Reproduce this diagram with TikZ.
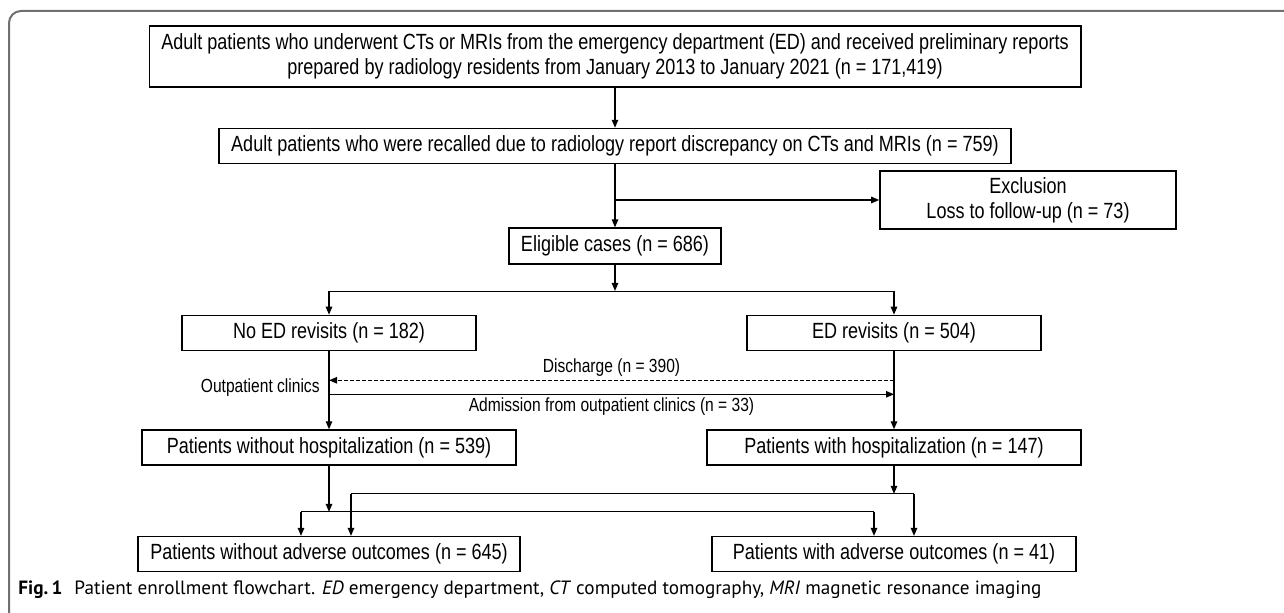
\documentclass[tikz,border=0pt]{standalone}
\usepackage{fontspec}
\setmainfont{Liberation Sans}[FakeStretch=0.82]
\newfontfamily\capfont{PT Sans}
\usepackage{xcolor}
\usetikzlibrary{arrows.meta, positioning, calc}
\definecolor{framegray}{HTML}{707070}
\tikzset{
  box/.style={
    rectangle, draw=black, line width=0.8pt,
    fill=white, align=center,
    inner xsep=6pt, inner ysep=0pt,
    minimum height=17.5pt, font=\fontsize{11}{12.5}\selectfont
  },
  midbox/.style={box, minimum width=147pt},
  widebox/.style={box, minimum width=187pt},
  outbox/.style={box, minimum width=182pt},
  arr/.style={-{Triangle[length=4pt, width=3.2pt]}, line width=0.7pt},
  dasharr/.style={arr, dash pattern=on 2pt off 1pt},
  lbl/.style={font=\fontsize{9.5}{11}\selectfont, inner sep=1.5pt}
}

\begin{document}
\begin{tikzpicture}[x=0.5pt, y=-0.5pt]
  \useasboundingbox (0,0) rectangle (1284,613);

  % ---- Frame ----
  \draw[framegray, line width=1pt, rounded corners=6pt] (1300,11) -- (9,11) -- (9,630);

  % ---- Nodes ----
  \node[box, minimum height=30.5pt] (top) at (615,56.5)
    {Adult patients who underwent CTs or MRIs from the emergency department (ED) and received preliminary reports\\
     prepared by radiology residents from January 2013 to January 2021 (n = 171,419)};

  \node[box, below=20pt of top] (recall)
    {Adult patients who were recalled due to radiology report discrepancy on CTs and MRIs (n = 759)};

  \node[box, minimum width=148pt, minimum height=29pt] (excl) at (1028,200)
    {Exclusion\\Loss to follow-up (n = 73)};

  \node[box, below=31.5pt of recall, minimum height=18pt] (elig) {Eligible cases (n = 686)};

  % revisits row
  \node[midbox] (noed) at (329,333) {No ED revisits (n = 182)};
  \node[midbox] (ed)   at (894,333) {ED revisits (n = 504)};

  % hospitalization row
  \node[widebox, below=39pt of noed] (nohosp) {Patients without hospitalization (n = 539)};
  \node[widebox, below=39pt of ed]   (hosp)   {Patients with hospitalization (n = 147)};

  % outcome row
  \node[outbox, below=35pt of nohosp] (noadv) {Patients without adverse outcomes (n = 645)};
  \node[outbox, below=35pt of hosp]   (adv)   {Patients with adverse outcomes (n = 41)};

  % ---- Helper points ----
  \coordinate (split) at ($(elig.south)+(0,26)$);
  \coordinate (disR)  at ($(ed.south)+(0,29)$);
  \coordinate (admL)  at ($(noed.south)+(0,43)$);
  \coordinate (upper) at ($(hosp.south)+(0,28)$);
  \coordinate (lower) at ($(nohosp.south)+(0,46)$);
  \coordinate (aL) at ($(noadv.north)+(-28,0)$);
  \coordinate (aR) at ($(noadv.north)+(22,0)$);
  \coordinate (bL) at ($(adv.north)+(-20,0)$);
  \coordinate (bR) at ($(adv.north)+(20,0)$);

  % ---- Arrows ----
  \draw[arr] (top.south -| elig.north) -- (recall.north -| elig.north);
  \draw[arr] (recall.south -| elig.north) -- (elig.north);
  \draw[arr] (excl.west -| elig.north) -- (excl.west);

  \draw[arr] (elig) -- (split);
  \draw (noed.north |- split) -- (ed.north |- split);
  \draw[arr] (noed.north |- split) -- (noed.north);
  \draw[arr] (ed.north |- split) -- (ed.north);

  \draw[arr] (noed) -- (nohosp);
  \draw[arr] (ed) -- (hosp);
  \draw[dasharr] (disR) -- (disR -| noed.south)
    node[lbl, above, midway] {Discharge (n = 390)};
  \draw[arr] (admL) -- (admL -| ed.south)
    node[lbl, below, midway] {Admission from outpatient clinics (n = 33)};
  \node[lbl, left=3pt] (outp) at ($(noed.south)+(0,36)$) {Outpatient clinics};

  \draw[arr] (hosp) -- (hosp.south |- upper);
  \draw (aR |- upper) -- (bR |- upper);
  \draw[arr] (aR |- upper) -- (aR);
  \draw[arr] (bR |- upper) -- (bR);

  \draw[arr] (nohosp) -- (nohosp.south |- lower);
  \draw (aL |- lower) -- (bL |- lower);
  \draw[arr] (aL |- lower) -- (aL);
  \draw[arr] (bL |- lower) -- (bL);

  % ---- Caption ----
  \node[anchor=west, inner sep=0pt, font=\capfont\fontsize{9.6}{12}\selectfont] (cap) at (18,590)
    {\textbf{Fig.\,1}\hspace{6pt}Patient enrollment flowchart. \textit{ED} emergency department, \textit{CT} computed tomography, \textit{MRI} magnetic resonance imaging};
\end{tikzpicture}
\end{document}
